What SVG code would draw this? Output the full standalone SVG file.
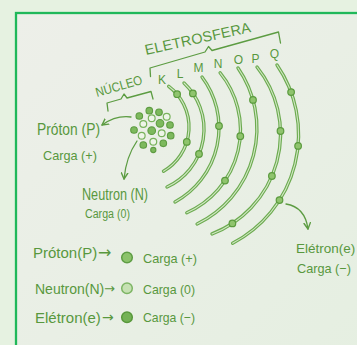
<svg xmlns="http://www.w3.org/2000/svg" width="357" height="345" viewBox="0 0 357 345">
  <defs>
    <linearGradient id="paper" x1="0" y1="0" x2="1" y2="1">
      <stop offset="0" stop-color="#edefe9"/>
      <stop offset="1" stop-color="#e4efe0"/>
    </linearGradient>
    <marker id="head" viewBox="0 0 8 8" refX="6.5" refY="4" markerWidth="8" markerHeight="8" markerUnits="userSpaceOnUse" orient="auto">
      <path d="M0.5,0.8 L6.5,4 L0.5,7.2" fill="none" stroke="#5c9c42" stroke-width="1.4" stroke-linejoin="round" stroke-linecap="round"/>
    </marker>
    <style>
      text { font-family: "Liberation Sans", "DejaVu Sans", sans-serif; fill: #58983e; }
      .shell-out { fill: none; stroke: #6cab50; stroke-width: 3.4; stroke-linecap: round; }
      .shell-in { fill: none; stroke: #d3e8c6; stroke-width: 1.1; stroke-linecap: round; }
      .e { fill: #8fc46d; stroke: #5b9b3e; stroke-width: 1.2; }
      .g { fill: #7db95d; stroke: #5e9c42; stroke-width: 1.1; }
      .w { fill: #eef5e8; stroke: #79b35d; stroke-width: 1.2; }
      .ink { fill: none; stroke: #5c9c42; stroke-width: 1.3; stroke-linecap: round; stroke-linejoin: round; }
      .arrow { fill: none; stroke: #5c9c42; stroke-width: 1.3; stroke-linecap: round; marker-end: url(#head); }
      .to { font-family: "DejaVu Sans", "Liberation Sans", sans-serif; }
    </style>
  </defs>

  <!-- page and sheet -->
  <rect x="0" y="0" width="357" height="345" fill="#e6f2e1"/>
  <rect x="16" y="13" width="400" height="400" fill="url(#paper)" stroke="#20b85a" stroke-width="2.3"/>

  <!-- electron shells K..Q -->
  <g id="shells">
    <g id="shell-K">
      <path class="shell-out" d="M168.7,86.3 A51,51 0 0 1 163.5,171.2"/>
      <path class="shell-in" d="M168.7,86.3 A51,51 0 0 1 163.5,171.2"/>
      <circle class="e" cx="177.1" cy="94.2" r="3.3"/>
      <circle class="e" cx="186.8" cy="141.9" r="3.3"/>
    </g>
    <g id="shell-L">
      <path class="shell-out" d="M184,83 A63.5,63.5 0 0 1 167,187"/>
      <path class="shell-in" d="M184,83 A63.5,63.5 0 0 1 167,187"/>
      <circle class="e" cx="192.9" cy="93.4" r="3.3"/>
      <circle class="e" cx="199" cy="154" r="3.3"/>
    </g>
    <g id="shell-M">
      <path class="shell-out" d="M202,77 A84.4,84.4 0 0 1 175,201.9"/>
      <path class="shell-in" d="M202,77 A84.4,84.4 0 0 1 175,201.9"/>
      <circle class="e" cx="219" cy="126" r="3.3"/>
    </g>
    <g id="shell-N">
      <path class="shell-out" d="M220.1,72.8 A90.5,90.5 0 0 1 186.8,212.7"/>
      <path class="shell-in" d="M220.1,72.8 A90.5,90.5 0 0 1 186.8,212.7"/>
      <circle class="e" cx="240.3" cy="136.2" r="3.3"/>
      <circle class="e" cx="225" cy="180.6" r="3.3"/>
    </g>
    <g id="shell-O">
      <path class="shell-out" d="M238,68 A106.2,106.2 0 0 1 197.1,224"/>
      <path class="shell-in" d="M238,68 A106.2,106.2 0 0 1 197.1,224"/>
      <circle class="e" cx="253" cy="99.9" r="3.3"/>
    </g>
    <g id="shell-P">
      <path class="shell-out" d="M257,67 A107.1,107.1 0 0 1 212,233.9"/>
      <path class="shell-in" d="M257,67 A107.1,107.1 0 0 1 212,233.9"/>
      <circle class="e" cx="280.5" cy="131" r="3.3"/>
      <circle class="e" cx="271.9" cy="176" r="3.3"/>
      <circle class="e" cx="232.4" cy="223.4" r="3.3"/>
    </g>
    <g id="shell-Q">
      <path class="shell-out" d="M277,65 A122.6,122.6 0 0 1 232.6,243.2"/>
      <path class="shell-in" d="M277,65 A122.6,122.6 0 0 1 232.6,243.2"/>
      <circle class="e" cx="291.1" cy="92.1" r="3.3"/>
      <circle class="e" cx="298.1" cy="145.9" r="3.3"/>
      <circle class="e" cx="279.5" cy="200.1" r="3.3"/>
    </g>
  </g>

  <!-- shell letters -->
  <g id="shell-labels" font-size="12" text-anchor="middle">
    <text x="162" y="84">K</text>
    <text x="180" y="78">L</text>
    <text x="198.5" y="71.5">M</text>
    <text x="218" y="68">N</text>
    <text x="238.5" y="64">O</text>
    <text x="255.5" y="63">P</text>
    <text x="274.5" y="57.5">Q</text>
  </g>

  <!-- electrosphere heading and brace -->
  <g id="eletrosfera">
    <text x="146" y="55" font-size="14.5" textLength="108" lengthAdjust="spacing" transform="rotate(-12.4 146 55)">ELETROSFERA</text>
    <path class="ink" d="M150.5,76.5 L150,68 L205,52 L208.5,46.5 L212,50.5 L278.5,32 L280.5,43"/>
  </g>

  <!-- nucleus heading, brace and particle cluster -->
  <g id="nucleo">
    <text x="97" y="97" font-size="13" textLength="48" lengthAdjust="spacingAndGlyphs" transform="rotate(-16 97 97)">NÚCLEO</text>
    <path class="ink" d="M108,111 L107,103 L121,99 L124,94 L127,98 L151,91.5 L153,99"/>
    <g id="nucleus">
      <circle class="g" cx="149.3" cy="110.7" r="3.3"/>
      <circle class="g" cx="159" cy="112.3" r="3.3"/>
      <circle class="w" cx="166.7" cy="116.7" r="3.4"/>
      <circle class="g" cx="139.3" cy="116" r="3.3"/>
      <circle class="w" cx="151.7" cy="118.3" r="3.4"/>
      <circle class="w" cx="143.3" cy="124" r="3.4"/>
      <circle class="g" cx="160" cy="123.3" r="3.8"/>
      <circle class="g" cx="170" cy="125" r="3.3"/>
      <circle class="g" cx="134" cy="130" r="3.3"/>
      <circle class="g" cx="151.7" cy="130.7" r="3.8"/>
      <circle class="w" cx="161.7" cy="133.3" r="3.4"/>
      <circle class="g" cx="170.7" cy="135.7" r="3.3"/>
      <circle class="w" cx="141.7" cy="135.7" r="3.4"/>
      <circle class="w" cx="153.3" cy="141.7" r="3.4"/>
      <circle class="g" cx="163.3" cy="143.3" r="3.3"/>
      <circle class="g" cx="143.3" cy="145" r="3.3"/>
      <circle class="g" cx="153.3" cy="150" r="2.6"/>
    </g>
  </g>

  <!-- callout labels -->
  <g id="label-proton">
    <text x="37" y="135" font-size="17" textLength="63" lengthAdjust="spacingAndGlyphs">Próton (P)</text>
    <text x="43" y="160" font-size="13" textLength="54" lengthAdjust="spacingAndGlyphs">Carga (+)</text>
  </g>
  <g id="label-neutron">
    <text x="82" y="200" font-size="16" textLength="66" lengthAdjust="spacingAndGlyphs">Neutron (N)</text>
    <text x="85" y="218" font-size="12" textLength="45" lengthAdjust="spacingAndGlyphs">Carga (0)</text>
  </g>
  <g id="label-eletron">
    <text x="296" y="253" font-size="13.5">Elétron(e)</text>
    <text x="297" y="273" font-size="13" textLength="54" lengthAdjust="spacingAndGlyphs">Carga (−)</text>
  </g>

  <!-- connectors -->
  <g id="connectors">
    <path class="arrow" d="M131,117 Q116,115 102,125"/>
    <path class="arrow" d="M137,141 Q126,157 124,179"/>
    <path class="arrow" d="M286,204 Q305,207 308,229"/>
  </g>

  <!-- key -->
  <g id="legend-proton">
    <text x="33" y="258" font-size="15">Próton(P)</text>
    <text class="to" x="98" y="258" font-size="16">→</text>
    <circle cx="127" cy="257.5" r="5.3" fill="#8cc36b" stroke="#5e9d44" stroke-width="1.5"/>
    <text x="143" y="262.5" font-size="13" textLength="54" lengthAdjust="spacingAndGlyphs">Carga (+)</text>
  </g>
  <g id="legend-neutron">
    <text x="35" y="294" font-size="14">Neutron(N)</text>
    <text class="to" x="104" y="293" font-size="13">→</text>
    <circle cx="127" cy="288.3" r="5.3" fill="#c6e1b3" stroke="#7db564" stroke-width="1.5"/>
    <text x="143" y="293.5" font-size="13" textLength="52" lengthAdjust="spacingAndGlyphs">Carga (0)</text>
  </g>
  <g id="legend-eletron">
    <text x="35" y="322.5" font-size="15">Elétron(e)</text>
    <text class="to" x="102" y="322" font-size="14">→</text>
    <circle cx="127" cy="317.3" r="5.3" fill="#74b255" stroke="#58983b" stroke-width="1.5"/>
    <text x="143" y="321.5" font-size="13" textLength="52" lengthAdjust="spacingAndGlyphs">Carga (−)</text>
  </g>
</svg>
